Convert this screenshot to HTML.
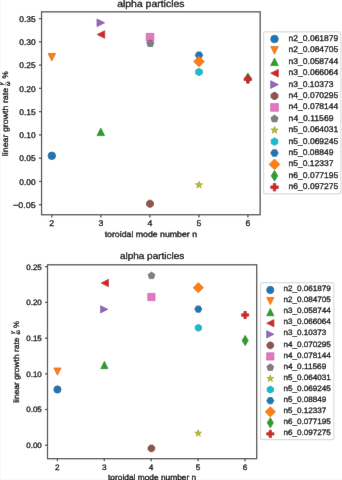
<!DOCTYPE html>
<html><head><meta charset="utf-8"><style>
html,body{margin:0;padding:0;background:#fff;}
svg{display:block;}
text{font-family:"Liberation Sans",sans-serif;text-rendering:geometricPrecision;fill:#000;stroke:#000;stroke-width:0.3px;}
</style></head><body>
<svg width="342" height="480" viewBox="0 0 342 480">
<defs><filter id="bl" x="0" y="0" width="1" height="1"><feConvolveMatrix order="3" kernelMatrix="0.0028 0.0470 0.0028 0.0470 0.8008 0.0470 0.0028 0.0470 0.0028" preserveAlpha="true" edgeMode="duplicate"/></filter></defs>
<rect width="342" height="480" fill="#fff"/>
<g filter="url(#bl)">
<rect width="342" height="480" fill="#fff"/>
<circle cx="51.80" cy="155.80" r="3.80" fill="#1f77b4" stroke="#1a6599" stroke-width="0.76"/>
<path d="M51.80,61.05 L55.60,53.45 L48.00,53.45 Z" fill="#ff7f0e" stroke="#d86b0b" stroke-width="0.76" stroke-linejoin="miter"/>
<path d="M100.80,128.00 L97.00,135.60 L104.60,135.60 Z" fill="#2ca02c" stroke="#258825" stroke-width="0.76" stroke-linejoin="miter"/>
<path d="M97.10,34.50 L104.70,30.70 L104.70,38.30 Z" fill="#d62728" stroke="#b52122" stroke-width="0.76" stroke-linejoin="miter"/>
<path d="M104.60,22.80 L97.00,26.60 L97.00,19.00 Z" fill="#9467bd" stroke="#7d57a0" stroke-width="0.76" stroke-linejoin="miter"/>
<path d="M148.55,200.19 L146.49,202.25 L146.49,205.15 L148.55,207.21 L151.45,207.21 L153.51,205.15 L153.51,202.25 L151.45,200.19 Z" fill="#8c564b" stroke="#77493f" stroke-width="0.76" stroke-linejoin="miter"/>
<path d="M146.20,33.40 L153.80,33.40 L153.80,41.00 L146.20,41.00 Z" fill="#e377c2" stroke="#c065a4" stroke-width="0.76" stroke-linejoin="miter"/>
<path d="M150.30,39.70 L146.69,42.33 L148.07,46.57 L152.53,46.57 L153.91,42.33 Z" fill="#7f7f7f" stroke="#6b6b6b" stroke-width="0.76" stroke-linejoin="miter"/>
<path d="M199.00,181.20 L198.15,183.83 L195.39,183.83 L197.62,185.45 L196.77,188.07 L199.00,186.45 L201.23,188.07 L200.38,185.45 L202.61,183.83 L199.85,183.83 Z" fill="#bcbd22" stroke="#9fa01c" stroke-width="0.76" stroke-linejoin="miter"/>
<path d="M199.00,68.20 L195.71,70.10 L195.71,73.90 L199.00,75.80 L202.29,73.90 L202.29,70.10 Z" fill="#17becf" stroke="#13a1af" stroke-width="0.76" stroke-linejoin="miter"/>
<path d="M197.10,51.91 L195.20,55.20 L197.10,58.49 L200.90,58.49 L202.80,55.20 L200.90,51.91 Z" fill="#1f77b4" stroke="#1a6599" stroke-width="0.76" stroke-linejoin="miter"/>
<path d="M199.00,56.13 L204.37,61.50 L199.00,66.87 L193.63,61.50 Z" fill="#ff7f0e" stroke="#d86b0b" stroke-width="0.76" stroke-linejoin="miter"/>
<path d="M247.90,72.93 L251.12,78.30 L247.90,83.67 L244.68,78.30 Z" fill="#2ca02c" stroke="#258825" stroke-width="0.76" stroke-linejoin="miter"/>
<path d="M246.63,75.50 L249.17,75.50 L249.17,78.03 L251.70,78.03 L251.70,80.57 L249.17,80.57 L249.17,83.10 L246.63,83.10 L246.63,80.57 L244.10,80.57 L244.10,78.03 L246.63,78.03 Z" fill="#d62728" stroke="#b52122" stroke-width="0.76" stroke-linejoin="miter"/>
<rect x="41.55" y="11.85" width="218.59999999999997" height="202.9" fill="none" stroke="#484848" stroke-width="1.25"/>
<line x1="51.80" y1="214.75" x2="51.80" y2="217.41" stroke="#484848" stroke-width="1.25"/>
<text x="51.80" y="226.10" font-size="8.21" text-anchor="middle" textLength="4.84" lengthAdjust="spacingAndGlyphs">2</text>
<line x1="100.83" y1="214.75" x2="100.83" y2="217.41" stroke="#484848" stroke-width="1.25"/>
<text x="100.83" y="226.10" font-size="8.21" text-anchor="middle" textLength="4.84" lengthAdjust="spacingAndGlyphs">3</text>
<line x1="149.86" y1="214.75" x2="149.86" y2="217.41" stroke="#484848" stroke-width="1.25"/>
<text x="149.86" y="226.10" font-size="8.21" text-anchor="middle" textLength="4.84" lengthAdjust="spacingAndGlyphs">4</text>
<line x1="198.89" y1="214.75" x2="198.89" y2="217.41" stroke="#484848" stroke-width="1.25"/>
<text x="198.89" y="226.10" font-size="8.21" text-anchor="middle" textLength="4.84" lengthAdjust="spacingAndGlyphs">5</text>
<line x1="247.92" y1="214.75" x2="247.92" y2="217.41" stroke="#484848" stroke-width="1.25"/>
<text x="247.92" y="226.10" font-size="8.21" text-anchor="middle" textLength="4.84" lengthAdjust="spacingAndGlyphs">6</text>
<line x1="38.89" y1="18.60" x2="41.55" y2="18.60" stroke="#484848" stroke-width="1.25"/>
<text x="35.63" y="21.80" font-size="8.21" text-anchor="end" textLength="16.32" lengthAdjust="spacingAndGlyphs">0.35</text>
<line x1="38.89" y1="41.86" x2="41.55" y2="41.86" stroke="#484848" stroke-width="1.25"/>
<text x="35.63" y="45.06" font-size="8.21" text-anchor="end" textLength="16.32" lengthAdjust="spacingAndGlyphs">0.30</text>
<line x1="38.89" y1="65.12" x2="41.55" y2="65.12" stroke="#484848" stroke-width="1.25"/>
<text x="35.63" y="68.32" font-size="8.21" text-anchor="end" textLength="16.32" lengthAdjust="spacingAndGlyphs">0.25</text>
<line x1="38.89" y1="88.38" x2="41.55" y2="88.38" stroke="#484848" stroke-width="1.25"/>
<text x="35.63" y="91.58" font-size="8.21" text-anchor="end" textLength="16.32" lengthAdjust="spacingAndGlyphs">0.20</text>
<line x1="38.89" y1="111.64" x2="41.55" y2="111.64" stroke="#484848" stroke-width="1.25"/>
<text x="35.63" y="114.84" font-size="8.21" text-anchor="end" textLength="16.32" lengthAdjust="spacingAndGlyphs">0.15</text>
<line x1="38.89" y1="134.90" x2="41.55" y2="134.90" stroke="#484848" stroke-width="1.25"/>
<text x="35.63" y="138.10" font-size="8.21" text-anchor="end" textLength="16.32" lengthAdjust="spacingAndGlyphs">0.10</text>
<line x1="38.89" y1="158.16" x2="41.55" y2="158.16" stroke="#484848" stroke-width="1.25"/>
<text x="35.63" y="161.36" font-size="8.21" text-anchor="end" textLength="16.32" lengthAdjust="spacingAndGlyphs">0.05</text>
<line x1="38.89" y1="181.42" x2="41.55" y2="181.42" stroke="#484848" stroke-width="1.25"/>
<text x="35.63" y="184.62" font-size="8.21" text-anchor="end" textLength="16.32" lengthAdjust="spacingAndGlyphs">0.00</text>
<line x1="38.89" y1="204.68" x2="41.55" y2="204.68" stroke="#484848" stroke-width="1.25"/>
<text x="35.63" y="207.88" font-size="8.21" text-anchor="end" textLength="22.69" lengthAdjust="spacingAndGlyphs">−0.05</text>
<text x="150.85" y="7.20" font-size="9.85" text-anchor="middle" textLength="67.33" lengthAdjust="spacingAndGlyphs">alpha particles</text>
<text x="150.85" y="237.10" font-size="8.21" text-anchor="middle" textLength="92.39" lengthAdjust="spacingAndGlyphs">toroidal mode number n</text>
<g transform="translate(8.40,156.20) rotate(-90)">
<text x="0.00" y="0.00" font-size="8.21" text-anchor="start" textLength="68.38" lengthAdjust="spacingAndGlyphs">linear growth rate</text>
<text x="72.36" y="-5.47" font-size="5.75" text-anchor="middle" font-style="italic">γ</text>
<line x1="70.57" y1="-2.51" x2="74.15" y2="-2.51" stroke="#000" stroke-width="0.45"/>
<text x="72.36" y="1.29" font-size="5.75" text-anchor="middle" font-style="italic">ω</text>
<text x="77.70" y="0.00" font-size="8.21" text-anchor="start" textLength="7.22" lengthAdjust="spacingAndGlyphs">%</text>
</g>
<rect x="263.6" y="31.9" width="77.29999999999995" height="161.9" rx="2" fill="#fff" fill-opacity="0.8" stroke="#dcdcdc" stroke-width="1.2"/>
<circle cx="274.50" cy="39.00" r="3.80" fill="#1f77b4" stroke="#1a6599" stroke-width="0.76"/>
<text x="288.60" y="40.90" font-size="8.21" text-anchor="start" textLength="49.71" lengthAdjust="spacingAndGlyphs">n2_0.061879</text>
<path d="M274.50,54.20 L278.30,46.60 L270.70,46.60 Z" fill="#ff7f0e" stroke="#d86b0b" stroke-width="0.76" stroke-linejoin="miter"/>
<text x="288.60" y="52.30" font-size="8.21" text-anchor="start" textLength="49.71" lengthAdjust="spacingAndGlyphs">n2_0.084705</text>
<path d="M274.50,58.00 L270.70,65.60 L278.30,65.60 Z" fill="#2ca02c" stroke="#258825" stroke-width="0.76" stroke-linejoin="miter"/>
<text x="288.60" y="63.70" font-size="8.21" text-anchor="start" textLength="49.71" lengthAdjust="spacingAndGlyphs">n3_0.058744</text>
<path d="M270.70,73.20 L278.30,69.40 L278.30,77.00 Z" fill="#d62728" stroke="#b52122" stroke-width="0.76" stroke-linejoin="miter"/>
<text x="288.60" y="75.10" font-size="8.21" text-anchor="start" textLength="49.71" lengthAdjust="spacingAndGlyphs">n3_0.066064</text>
<path d="M278.30,84.60 L270.70,88.40 L270.70,80.80 Z" fill="#9467bd" stroke="#7d57a0" stroke-width="0.76" stroke-linejoin="miter"/>
<text x="288.60" y="86.50" font-size="8.21" text-anchor="start" textLength="44.88" lengthAdjust="spacingAndGlyphs">n3_0.10373</text>
<path d="M273.05,92.49 L270.99,94.55 L270.99,97.45 L273.05,99.51 L275.95,99.51 L278.01,97.45 L278.01,94.55 L275.95,92.49 Z" fill="#8c564b" stroke="#77493f" stroke-width="0.76" stroke-linejoin="miter"/>
<text x="288.60" y="97.90" font-size="8.21" text-anchor="start" textLength="49.71" lengthAdjust="spacingAndGlyphs">n4_0.070295</text>
<path d="M270.70,103.60 L278.30,103.60 L278.30,111.20 L270.70,111.20 Z" fill="#e377c2" stroke="#c065a4" stroke-width="0.76" stroke-linejoin="miter"/>
<text x="288.60" y="109.30" font-size="8.21" text-anchor="start" textLength="49.71" lengthAdjust="spacingAndGlyphs">n4_0.078144</text>
<path d="M274.50,115.00 L270.89,117.63 L272.27,121.87 L276.73,121.87 L278.11,117.63 Z" fill="#7f7f7f" stroke="#6b6b6b" stroke-width="0.76" stroke-linejoin="miter"/>
<text x="288.60" y="120.70" font-size="8.21" text-anchor="start" textLength="44.88" lengthAdjust="spacingAndGlyphs">n4_0.11569</text>
<path d="M274.50,126.40 L273.65,129.03 L270.89,129.03 L273.12,130.65 L272.27,133.27 L274.50,131.65 L276.73,133.27 L275.88,130.65 L278.11,129.03 L275.35,129.03 Z" fill="#bcbd22" stroke="#9fa01c" stroke-width="0.76" stroke-linejoin="miter"/>
<text x="288.60" y="132.10" font-size="8.21" text-anchor="start" textLength="49.71" lengthAdjust="spacingAndGlyphs">n5_0.064031</text>
<path d="M274.50,137.80 L271.21,139.70 L271.21,143.50 L274.50,145.40 L277.79,143.50 L277.79,139.70 Z" fill="#17becf" stroke="#13a1af" stroke-width="0.76" stroke-linejoin="miter"/>
<text x="288.60" y="143.50" font-size="8.21" text-anchor="start" textLength="49.71" lengthAdjust="spacingAndGlyphs">n5_0.069245</text>
<path d="M272.60,149.71 L270.70,153.00 L272.60,156.29 L276.40,156.29 L278.30,153.00 L276.40,149.71 Z" fill="#1f77b4" stroke="#1a6599" stroke-width="0.76" stroke-linejoin="miter"/>
<text x="288.60" y="154.90" font-size="8.21" text-anchor="start" textLength="44.88" lengthAdjust="spacingAndGlyphs">n5_0.08849</text>
<path d="M274.50,159.03 L279.87,164.40 L274.50,169.77 L269.13,164.40 Z" fill="#ff7f0e" stroke="#d86b0b" stroke-width="0.76" stroke-linejoin="miter"/>
<text x="288.60" y="166.30" font-size="8.21" text-anchor="start" textLength="44.88" lengthAdjust="spacingAndGlyphs">n5_0.12337</text>
<path d="M274.50,170.43 L277.72,175.80 L274.50,181.17 L271.28,175.80 Z" fill="#2ca02c" stroke="#258825" stroke-width="0.76" stroke-linejoin="miter"/>
<text x="288.60" y="177.70" font-size="8.21" text-anchor="start" textLength="49.71" lengthAdjust="spacingAndGlyphs">n6_0.077195</text>
<path d="M273.23,183.40 L275.77,183.40 L275.77,185.93 L278.30,185.93 L278.30,188.47 L275.77,188.47 L275.77,191.00 L273.23,191.00 L273.23,188.47 L270.70,188.47 L270.70,185.93 L273.23,185.93 Z" fill="#d62728" stroke="#b52122" stroke-width="0.76" stroke-linejoin="miter"/>
<text x="288.60" y="189.10" font-size="8.21" text-anchor="start" textLength="49.71" lengthAdjust="spacingAndGlyphs">n6_0.097275</text>
<circle cx="57.45" cy="389.50" r="3.63" fill="#1f77b4" stroke="#1a6599" stroke-width="0.7258"/>
<path d="M57.45,375.23 L61.08,367.97 L53.82,367.97 Z" fill="#ff7f0e" stroke="#d86b0b" stroke-width="0.7258" stroke-linejoin="miter"/>
<path d="M104.40,361.37 L100.77,368.63 L108.03,368.63 Z" fill="#2ca02c" stroke="#258825" stroke-width="0.7258" stroke-linejoin="miter"/>
<path d="M101.17,283.00 L108.43,279.37 L108.43,286.63 Z" fill="#d62728" stroke="#b52122" stroke-width="0.7258" stroke-linejoin="miter"/>
<path d="M107.83,309.30 L100.57,312.93 L100.57,305.67 Z" fill="#9467bd" stroke="#7d57a0" stroke-width="0.7258" stroke-linejoin="miter"/>
<path d="M150.01,445.05 L148.05,447.01 L148.05,449.79 L150.01,451.75 L152.79,451.75 L154.75,449.79 L154.75,447.01 L152.79,445.05 Z" fill="#8c564b" stroke="#77493f" stroke-width="0.7258" stroke-linejoin="miter"/>
<path d="M147.77,293.37 L155.03,293.37 L155.03,300.63 L147.77,300.63 Z" fill="#e377c2" stroke="#c065a4" stroke-width="0.7258" stroke-linejoin="miter"/>
<path d="M151.50,272.02 L148.05,274.53 L149.37,278.59 L153.63,278.59 L154.95,274.53 Z" fill="#7f7f7f" stroke="#6b6b6b" stroke-width="0.7258" stroke-linejoin="miter"/>
<path d="M198.20,429.67 L197.39,432.18 L194.75,432.18 L196.88,433.73 L196.07,436.24 L198.20,434.69 L200.33,436.24 L199.52,433.73 L201.65,432.18 L199.01,432.18 Z" fill="#bcbd22" stroke="#9fa01c" stroke-width="0.7258" stroke-linejoin="miter"/>
<path d="M198.40,324.17 L195.26,325.99 L195.26,329.61 L198.40,331.43 L201.54,329.61 L201.54,325.99 Z" fill="#17becf" stroke="#13a1af" stroke-width="0.7258" stroke-linejoin="miter"/>
<path d="M196.49,305.96 L194.67,309.10 L196.49,312.24 L200.11,312.24 L201.93,309.10 L200.11,305.96 Z" fill="#1f77b4" stroke="#1a6599" stroke-width="0.7258" stroke-linejoin="miter"/>
<path d="M198.30,282.57 L203.43,287.70 L198.30,292.83 L193.17,287.70 Z" fill="#ff7f0e" stroke="#d86b0b" stroke-width="0.7258" stroke-linejoin="miter"/>
<path d="M245.20,335.37 L248.28,340.50 L245.20,345.63 L242.12,340.50 Z" fill="#2ca02c" stroke="#258825" stroke-width="0.7258" stroke-linejoin="miter"/>
<path d="M243.89,311.37 L246.31,311.37 L246.31,313.79 L248.73,313.79 L248.73,316.21 L246.31,316.21 L246.31,318.63 L243.89,318.63 L243.89,316.21 L241.47,316.21 L241.47,313.79 L243.89,313.79 Z" fill="#d62728" stroke="#b52122" stroke-width="0.7258" stroke-linejoin="miter"/>
<rect x="47.5" y="264.8" width="209.2" height="193.89999999999998" fill="none" stroke="#484848" stroke-width="1.25"/>
<line x1="57.40" y1="458.7" x2="57.40" y2="461.24" stroke="#484848" stroke-width="1.25"/>
<text x="57.40" y="469.70" font-size="7.84" text-anchor="middle" textLength="4.62" lengthAdjust="spacingAndGlyphs">2</text>
<line x1="104.30" y1="458.7" x2="104.30" y2="461.24" stroke="#484848" stroke-width="1.25"/>
<text x="104.30" y="469.70" font-size="7.84" text-anchor="middle" textLength="4.62" lengthAdjust="spacingAndGlyphs">3</text>
<line x1="151.20" y1="458.7" x2="151.20" y2="461.24" stroke="#484848" stroke-width="1.25"/>
<text x="151.20" y="469.70" font-size="7.84" text-anchor="middle" textLength="4.62" lengthAdjust="spacingAndGlyphs">4</text>
<line x1="198.10" y1="458.7" x2="198.10" y2="461.24" stroke="#484848" stroke-width="1.25"/>
<text x="198.10" y="469.70" font-size="7.84" text-anchor="middle" textLength="4.62" lengthAdjust="spacingAndGlyphs">5</text>
<line x1="245.00" y1="458.7" x2="245.00" y2="461.24" stroke="#484848" stroke-width="1.25"/>
<text x="245.00" y="469.70" font-size="7.84" text-anchor="middle" textLength="4.62" lengthAdjust="spacingAndGlyphs">6</text>
<line x1="44.96" y1="266.70" x2="47.5" y2="266.70" stroke="#484848" stroke-width="1.25"/>
<text x="41.85" y="269.60" font-size="7.84" text-anchor="end" textLength="15.59" lengthAdjust="spacingAndGlyphs">0.25</text>
<line x1="44.96" y1="302.40" x2="47.5" y2="302.40" stroke="#484848" stroke-width="1.25"/>
<text x="41.85" y="305.30" font-size="7.84" text-anchor="end" textLength="15.59" lengthAdjust="spacingAndGlyphs">0.20</text>
<line x1="44.96" y1="338.10" x2="47.5" y2="338.10" stroke="#484848" stroke-width="1.25"/>
<text x="41.85" y="341.00" font-size="7.84" text-anchor="end" textLength="15.59" lengthAdjust="spacingAndGlyphs">0.15</text>
<line x1="44.96" y1="373.80" x2="47.5" y2="373.80" stroke="#484848" stroke-width="1.25"/>
<text x="41.85" y="376.70" font-size="7.84" text-anchor="end" textLength="15.59" lengthAdjust="spacingAndGlyphs">0.10</text>
<line x1="44.96" y1="409.50" x2="47.5" y2="409.50" stroke="#484848" stroke-width="1.25"/>
<text x="41.85" y="412.40" font-size="7.84" text-anchor="end" textLength="15.59" lengthAdjust="spacingAndGlyphs">0.05</text>
<line x1="44.96" y1="445.20" x2="47.5" y2="445.20" stroke="#484848" stroke-width="1.25"/>
<text x="41.85" y="448.10" font-size="7.84" text-anchor="end" textLength="15.59" lengthAdjust="spacingAndGlyphs">0.00</text>
<text x="152.10" y="259.30" font-size="9.41" text-anchor="middle" textLength="64.30" lengthAdjust="spacingAndGlyphs">alpha particles</text>
<text x="152.10" y="479.60" font-size="7.84" text-anchor="middle" textLength="88.23" lengthAdjust="spacingAndGlyphs">toroidal mode number n</text>
<g transform="translate(19.00,402.80) rotate(-90)">
<text x="0.00" y="0.00" font-size="7.84" text-anchor="start" textLength="65.30" lengthAdjust="spacingAndGlyphs">linear growth rate</text>
<text x="70.40" y="-5.23" font-size="5.49" text-anchor="middle" font-style="italic">γ</text>
<line x1="68.69" y1="-2.40" x2="72.11" y2="-2.40" stroke="#000" stroke-width="0.43"/>
<text x="70.40" y="1.23" font-size="5.49" text-anchor="middle" font-style="italic">ω</text>
<text x="74.90" y="0.00" font-size="7.84" text-anchor="start" textLength="6.90" lengthAdjust="spacingAndGlyphs">%</text>
</g>
<rect x="260.5" y="282.6" width="73.30000000000001" height="157.0" rx="2" fill="#fff" fill-opacity="0.8" stroke="#dcdcdc" stroke-width="1.2"/>
<circle cx="270.30" cy="290.00" r="3.63" fill="#1f77b4" stroke="#1a6599" stroke-width="0.7258"/>
<text x="283.40" y="291.20" font-size="7.84" text-anchor="start" textLength="47.48" lengthAdjust="spacingAndGlyphs">n2_0.061879</text>
<path d="M270.30,304.70 L273.93,297.44 L266.67,297.44 Z" fill="#ff7f0e" stroke="#d86b0b" stroke-width="0.7258" stroke-linejoin="miter"/>
<text x="283.40" y="302.27" font-size="7.84" text-anchor="start" textLength="47.48" lengthAdjust="spacingAndGlyphs">n2_0.084705</text>
<path d="M270.30,308.51 L266.67,315.77 L273.93,315.77 Z" fill="#2ca02c" stroke="#258825" stroke-width="0.7258" stroke-linejoin="miter"/>
<text x="283.40" y="313.34" font-size="7.84" text-anchor="start" textLength="47.48" lengthAdjust="spacingAndGlyphs">n3_0.058744</text>
<path d="M266.67,323.21 L273.93,319.58 L273.93,326.84 Z" fill="#d62728" stroke="#b52122" stroke-width="0.7258" stroke-linejoin="miter"/>
<text x="283.40" y="324.41" font-size="7.84" text-anchor="start" textLength="47.48" lengthAdjust="spacingAndGlyphs">n3_0.066064</text>
<path d="M273.93,334.28 L266.67,337.91 L266.67,330.65 Z" fill="#9467bd" stroke="#7d57a0" stroke-width="0.7258" stroke-linejoin="miter"/>
<text x="283.40" y="335.48" font-size="7.84" text-anchor="start" textLength="42.86" lengthAdjust="spacingAndGlyphs">n3_0.10373</text>
<path d="M268.91,342.00 L266.95,343.96 L266.95,346.74 L268.91,348.70 L271.69,348.70 L273.65,346.74 L273.65,343.96 L271.69,342.00 Z" fill="#8c564b" stroke="#77493f" stroke-width="0.7258" stroke-linejoin="miter"/>
<text x="283.40" y="346.55" font-size="7.84" text-anchor="start" textLength="47.48" lengthAdjust="spacingAndGlyphs">n4_0.070295</text>
<path d="M266.67,352.79 L273.93,352.79 L273.93,360.05 L266.67,360.05 Z" fill="#e377c2" stroke="#c065a4" stroke-width="0.7258" stroke-linejoin="miter"/>
<text x="283.40" y="357.62" font-size="7.84" text-anchor="start" textLength="47.48" lengthAdjust="spacingAndGlyphs">n4_0.078144</text>
<path d="M270.30,363.86 L266.85,366.37 L268.17,370.43 L272.43,370.43 L273.75,366.37 Z" fill="#7f7f7f" stroke="#6b6b6b" stroke-width="0.7258" stroke-linejoin="miter"/>
<text x="283.40" y="368.69" font-size="7.84" text-anchor="start" textLength="42.86" lengthAdjust="spacingAndGlyphs">n4_0.11569</text>
<path d="M270.30,374.93 L269.49,377.44 L266.85,377.44 L268.98,378.99 L268.17,381.50 L270.30,379.95 L272.43,381.50 L271.62,378.99 L273.75,377.44 L271.11,377.44 Z" fill="#bcbd22" stroke="#9fa01c" stroke-width="0.7258" stroke-linejoin="miter"/>
<text x="283.40" y="379.76" font-size="7.84" text-anchor="start" textLength="47.48" lengthAdjust="spacingAndGlyphs">n5_0.064031</text>
<path d="M270.30,386.00 L267.16,387.82 L267.16,391.44 L270.30,393.26 L273.44,391.44 L273.44,387.82 Z" fill="#17becf" stroke="#13a1af" stroke-width="0.7258" stroke-linejoin="miter"/>
<text x="283.40" y="390.83" font-size="7.84" text-anchor="start" textLength="47.48" lengthAdjust="spacingAndGlyphs">n5_0.069245</text>
<path d="M268.49,397.56 L266.67,400.70 L268.49,403.84 L272.11,403.84 L273.93,400.70 L272.11,397.56 Z" fill="#1f77b4" stroke="#1a6599" stroke-width="0.7258" stroke-linejoin="miter"/>
<text x="283.40" y="401.90" font-size="7.84" text-anchor="start" textLength="42.86" lengthAdjust="spacingAndGlyphs">n5_0.08849</text>
<path d="M270.30,406.64 L275.43,411.77 L270.30,416.90 L265.17,411.77 Z" fill="#ff7f0e" stroke="#d86b0b" stroke-width="0.7258" stroke-linejoin="miter"/>
<text x="283.40" y="412.97" font-size="7.84" text-anchor="start" textLength="42.86" lengthAdjust="spacingAndGlyphs">n5_0.12337</text>
<path d="M270.30,417.71 L273.38,422.84 L270.30,427.97 L267.22,422.84 Z" fill="#2ca02c" stroke="#258825" stroke-width="0.7258" stroke-linejoin="miter"/>
<text x="283.40" y="424.04" font-size="7.84" text-anchor="start" textLength="47.48" lengthAdjust="spacingAndGlyphs">n6_0.077195</text>
<path d="M269.09,430.28 L271.51,430.28 L271.51,432.70 L273.93,432.70 L273.93,435.12 L271.51,435.12 L271.51,437.54 L269.09,437.54 L269.09,435.12 L266.67,435.12 L266.67,432.70 L269.09,432.70 Z" fill="#d62728" stroke="#b52122" stroke-width="0.7258" stroke-linejoin="miter"/>
<text x="283.40" y="435.11" font-size="7.84" text-anchor="start" textLength="47.48" lengthAdjust="spacingAndGlyphs">n6_0.097275</text>
</g>
</svg>
</body></html>
